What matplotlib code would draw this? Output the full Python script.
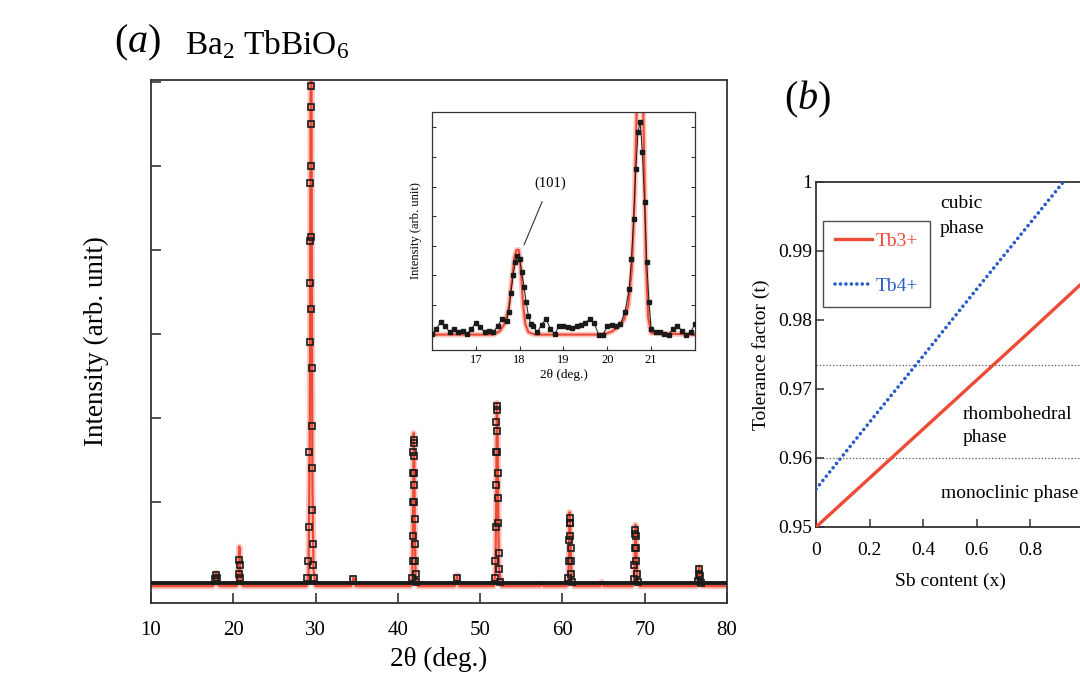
import numpy as np
import matplotlib
matplotlib.use("Agg")
import matplotlib.pyplot as plt

plt.rcParams['font.family'] = ['Liberation Serif', 'DejaVu Serif']
plt.rcParams['mathtext.fontset'] = 'custom'
plt.rcParams['mathtext.rm'] = 'Liberation Serif'
plt.rcParams['mathtext.it'] = 'Liberation Serif:italic'

######################################################################
# data (a): XRD pattern, intensity in tick units
######################################################################

calc_x = [10.0, 17.5, 17.75, 17.85, 17.93, 18.02, 18.12, 18.35,
          20.4, 20.6, 20.68, 20.73, 20.78, 20.85, 20.95, 21.2,
          28.9, 29.15, 29.3, 29.38, 29.43, 29.5, 29.55, 29.62, 29.75, 30.0,
          34.3, 34.5, 34.6, 34.7, 34.9,
          41.55, 41.75, 41.85, 41.93, 42.0, 42.07, 42.17, 42.45,
          46.9, 47.1, 47.2, 47.3, 47.5,
          51.65, 51.85, 51.95, 52.03, 52.12, 52.2, 52.3, 52.6,
          57.3, 57.5, 57.7,
          60.5, 60.7, 60.8, 60.88, 60.96, 61.04, 61.15, 61.4,
          64.6, 64.8, 65.0,
          68.5, 68.7, 68.8, 68.88, 68.96, 69.04, 69.15, 69.4,
          76.3, 76.5, 76.62, 76.75, 76.95,
          80.0]
calc_y = [0, 0, 0.03, 0.12, 0.16, 0.10, 0.02, 0,
          0, 0.06, 0.30, 0.47, 0.44, 0.15, 0.03, 0,
          0, 0.15, 1.8, 5.0, 7.0, 6.5, 3.6, 1.2, 0.2, 0,
          0, 0.05, 0.10, 0.05, 0,
          0, 0.12, 0.80, 1.82, 1.50, 0.60, 0.10, 0,
          0, 0.06, 0.13, 0.06, 0,
          0, 0.15, 0.90, 2.18, 1.85, 0.90, 0.20, 0,
          0, 0.03, 0,
          0, 0.06, 0.35, 0.88, 0.70, 0.30, 0.06, 0,
          0, 0.05, 0,
          0, 0.05, 0.30, 0.73, 0.55, 0.25, 0.05, 0,
          0, 0.08, 0.23, 0.08, 0,
          0]

# background of the observed pattern
bg_x = [10.0, 80.0]
bg_y = [0.035, 0.035]

obs_x = [17.8, 17.9, 18.0,
         20.7, 20.75, 20.8, 20.85,
         28.95, 29.05, 29.15, 29.22, 29.28, 29.32, 29.35, 29.38, 29.40, 29.42,
         29.44, 29.46, 29.48, 29.50, 29.52, 29.55, 29.58, 29.62, 29.68, 29.75, 29.85,
         34.6,
         41.75, 41.8, 41.83, 41.86, 41.88, 41.9, 41.92, 41.94, 41.96, 41.98,
         42.0, 42.02, 42.04, 42.07, 42.1, 42.15, 42.23,
         47.2,
         51.82, 51.87, 51.9, 51.93, 51.96, 51.99, 52.02, 52.05, 52.08, 52.11,
         52.14, 52.17, 52.2, 52.24, 52.3, 52.38,
         60.72, 60.78, 60.83, 60.87, 60.9, 60.93, 60.96, 61.0, 61.05, 61.1, 61.2,
         68.7, 68.76, 68.81, 68.85, 68.88, 68.92, 68.96, 69.0, 69.06, 69.15,
         76.45, 76.55, 76.62, 76.7, 76.8]
obs_y = [0.08, 0.13, 0.10,
         0.15, 0.31, 0.25, 0.10,
         0.10, 0.30, 0.70, 1.60, 2.90, 3.60, 4.10, 4.80, 5.50, 5.95,
         5.70, 5.00, 4.15, 3.30, 2.60, 1.90, 1.40, 0.90, 0.50, 0.25, 0.10,
         0.08,
         0.10, 0.30, 0.60, 1.00, 1.35, 1.60, 1.74, 1.70, 1.55, 1.35,
         1.20, 1.00, 0.80, 0.50, 0.30, 0.15, 0.05,
         0.10,
         0.10, 0.30, 0.70, 1.20, 1.60, 1.95, 2.14, 2.10, 1.85, 1.60,
         1.35, 1.05, 0.75, 0.40, 0.20, 0.05,
         0.10, 0.30, 0.55, 0.75, 0.81, 0.75, 0.60, 0.45, 0.30, 0.15, 0.05,
         0.08, 0.25, 0.45, 0.62, 0.67, 0.60, 0.45, 0.30, 0.15, 0.05,
         0.06, 0.15, 0.20, 0.12, 0.04]

# inset: 16-22 deg
ins_x = [16.0, 16.1, 16.2, 16.3, 16.4, 16.5, 16.6, 16.7, 16.8, 16.9, 17.0, 17.1,
         17.2, 17.3, 17.4, 17.5, 17.6, 17.7,
         17.75, 17.8, 17.85, 17.9, 17.95, 18.0, 18.05, 18.1, 18.15, 18.2, 18.25, 18.3,
         18.4, 18.5, 18.6, 18.7, 18.8, 18.9, 19.0, 19.1, 19.2, 19.3, 19.4, 19.5,
         19.6, 19.7, 19.8, 19.9, 20.0, 20.1, 20.2, 20.3, 20.4, 20.5,
         20.55, 20.6, 20.65, 20.7, 20.75, 20.8, 20.85, 20.9, 20.95, 21.0,
         21.1, 21.2, 21.3, 21.4, 21.5, 21.6, 21.7, 21.8, 21.9, 22.0]
ins_y = [0.02, 0.2, 0.42, 0.3, 0.08, 0.2, 0.1, 0.13, 0.02, 0.2, 0.4, 0.25,
         0.08, 0.13, 0.08, 0.3, 0.53, 0.47,
         0.75, 1.4, 2.0, 2.44, 2.65, 2.55, 2.1, 1.6, 1.1, 0.64, 0.36, 0.3,
         0.08, 0.33, 0.53, 0.2, 0.02, 0.3, 0.28, 0.25, 0.22, 0.28, 0.33, 0.4,
         0.53, 0.4, 0.0, 0.0, 0.28, 0.33, 0.28, 0.36, 0.75, 1.54,
         2.55, 3.9, 5.6, 6.83, 7.17, 6.16, 4.47, 2.44, 1.1, 0.2,
         0.1, 0.08, 0.02, 0.0, 0.2, 0.3, 0.13, 0.0, 0.08, 0.36]
ins_calc_x = [16.0, 17.4, 17.55, 17.65, 17.75, 17.82, 17.88, 17.93, 17.98, 18.03,
              18.08, 18.13, 18.2, 18.35, 19.9, 20.1, 20.25, 20.38, 20.48, 20.56,
              20.62, 20.66, 20.7, 20.8, 20.84, 20.88, 20.93, 21.0, 22.0]
ins_calc_y = [0, 0, 0.12, 0.35, 0.9, 1.8, 2.6, 2.86, 2.86, 2.1,
              1.0, 0.35, 0.08, 0, 0, 0.1, 0.25, 0.5, 1.0, 2.2,
              4.5, 7.0, 9.0, 9.0, 6.0, 2.5, 0.6, 0.05, 0]

######################################################################
# data (b): tolerance factor
######################################################################

sb = [0.0, 0.2, 0.4, 0.6, 0.8, 1.0]
t_tb3 = [0.9500, 0.9571, 0.9642, 0.9713, 0.9784, 0.9856]
t_tb4 = [0.9555, 0.9652, 0.9748, 0.9845, 0.9941, 1.0037]
phase_limits = [0.9735, 0.9600]

red = '#ef4a35'
blue = '#2a5cc8'
spine = '#333333'

fig = plt.figure(figsize=(10.8, 6.75), dpi=100)

######################################################################
# panel (a)
######################################################################

ax = fig.add_axes([0.1398, 0.1067, 0.5333, 0.7748])
ax.plot(calc_x, calc_y, color=red, lw=4.5, alpha=0.3, zorder=2)
ax.plot(calc_x, calc_y, color=red, lw=1.6, zorder=2)
ax.plot(bg_x, bg_y, color='#1a1a1a', lw=2.8, zorder=3)
ax.plot(obs_x, obs_y, ls='none', marker='s', ms=3.8, mfc='none',
        mec='#1a1a1a', mew=1.2, zorder=4)
ax.set_xlim(10, 80)
ax.set_ylim(-0.2, 6.02)
ax.set_xticks([10, 20, 30, 40, 50, 60, 70, 80])
ax.set_yticks([1, 2, 3, 4, 5, 6])
ax.set_yticklabels([])
ax.tick_params(direction='in', length=7, width=1.2, color=spine,
               labelsize=15, pad=13)
for s in ax.spines.values():
    s.set_color(spine)
    s.set_linewidth(1.3)
ax.set_xlabel('2θ (deg.)', fontsize=19.5, labelpad=5)
ax.set_ylabel('Intensity (arb. unit)', fontsize=19.5, labelpad=17)

fig.text(0.106, 0.937, r'$(\mathit{a})$', fontsize=29, va='center')
fig.text(0.171, 0.934, r'Ba$_2$ TbBiO$_6$', fontsize=24, va='center')

# inset
axi = fig.add_axes([0.40, 0.4815, 0.2435, 0.3526])
axi.plot(ins_calc_x, ins_calc_y, color=red, lw=4, alpha=0.3, zorder=2)
axi.plot(ins_calc_x, ins_calc_y, color=red, lw=1.5, zorder=2)
axi.plot(ins_x, ins_y, color='#1a1a1a', lw=0.7, marker='s', ms=2.2, zorder=3)
axi.set_xlim(16, 22)
axi.set_ylim(-0.52, 7.52)
axi.set_xticks([17, 18, 19, 20, 21])
axi.set_yticks(range(0, 8))
axi.set_yticklabels([])
axi.tick_params(direction='in', length=3, width=0.8, color=spine,
                labelsize=9, pad=3, right=True)
for s in axi.spines.values():
    s.set_color(spine)
    s.set_linewidth(0.9)
axi.set_xlabel('2θ (deg.)', fontsize=9.5, labelpad=2)
axi.set_ylabel('Intensity (arb. unit)', fontsize=9, labelpad=4)
axi.annotate('(101)', xy=(18.1, 3.03), xytext=(18.69, 5.12),
             fontsize=10.5, ha='center', va='center',
             arrowprops=dict(arrowstyle='-', color='#333333', lw=0.8,
                             shrinkA=7, shrinkB=0))

######################################################################
# panel (b)
######################################################################

axb = fig.add_axes([0.7556, 0.2193, 0.2481, 0.5111])
for lim in phase_limits:
    axb.axhline(lim, color='#555555', ls=':', lw=0.9, zorder=1)
axb.plot(sb, t_tb3, color=red, lw=2.4, label='Tb3+', zorder=3)
axb.plot(sb, t_tb4, color=blue, lw=2.6, ls=(0, (0.01, 1.5)),
         dash_capstyle='round', label='Tb4+', zorder=3)
axb.set_xlim(0, 1)
axb.set_ylim(0.95, 1.0)
axb.set_xticks([0, 0.2, 0.4, 0.6, 0.8])
axb.set_xticklabels(['0', '0.2', '0.4', '0.6', '0.8'])
axb.set_yticks([0.95, 0.96, 0.97, 0.98, 0.99, 1.0])
axb.set_yticklabels(['0.95', '0.96', '0.97', '0.98', '0.99', '1'])
axb.tick_params(direction='in', length=6, width=1.1, color=spine,
                labelsize=14)
axb.tick_params(axis='x', pad=11)
axb.tick_params(axis='y', pad=3)
for s in axb.spines.values():
    s.set_color(spine)
    s.set_linewidth(1.3)
axb.set_xlabel('Sb content (x)', fontsize=14, labelpad=10)
axb.set_ylabel('Tolerance factor (t)', fontsize=14, labelpad=6)

axb.text(0.462, 0.9951, 'cubic\nphase', fontsize=14, va='center',
         linespacing=1.6)
axb.text(0.547, 0.9646, 'rhombohedral\nphase', fontsize=14, va='center',
         linespacing=1.45)
axb.text(0.466, 0.9549, 'monoclinic phase', fontsize=14, va='center')

leg = axb.legend(loc='upper left', bbox_to_anchor=(0.026, 0.887),
                 borderaxespad=0, frameon=True, fancybox=False,
                 edgecolor='#222222', fontsize=14, labelcolor='linecolor',
                 handlelength=1.9, handletextpad=0.2, labelspacing=1.4,
                 borderpad=0.6)
leg.get_frame().set_linewidth(1.0)

fig.text(0.726, 0.852, r'$(\mathit{b})$', fontsize=29, va='center')

fig.savefig('out.png', dpi=100)
